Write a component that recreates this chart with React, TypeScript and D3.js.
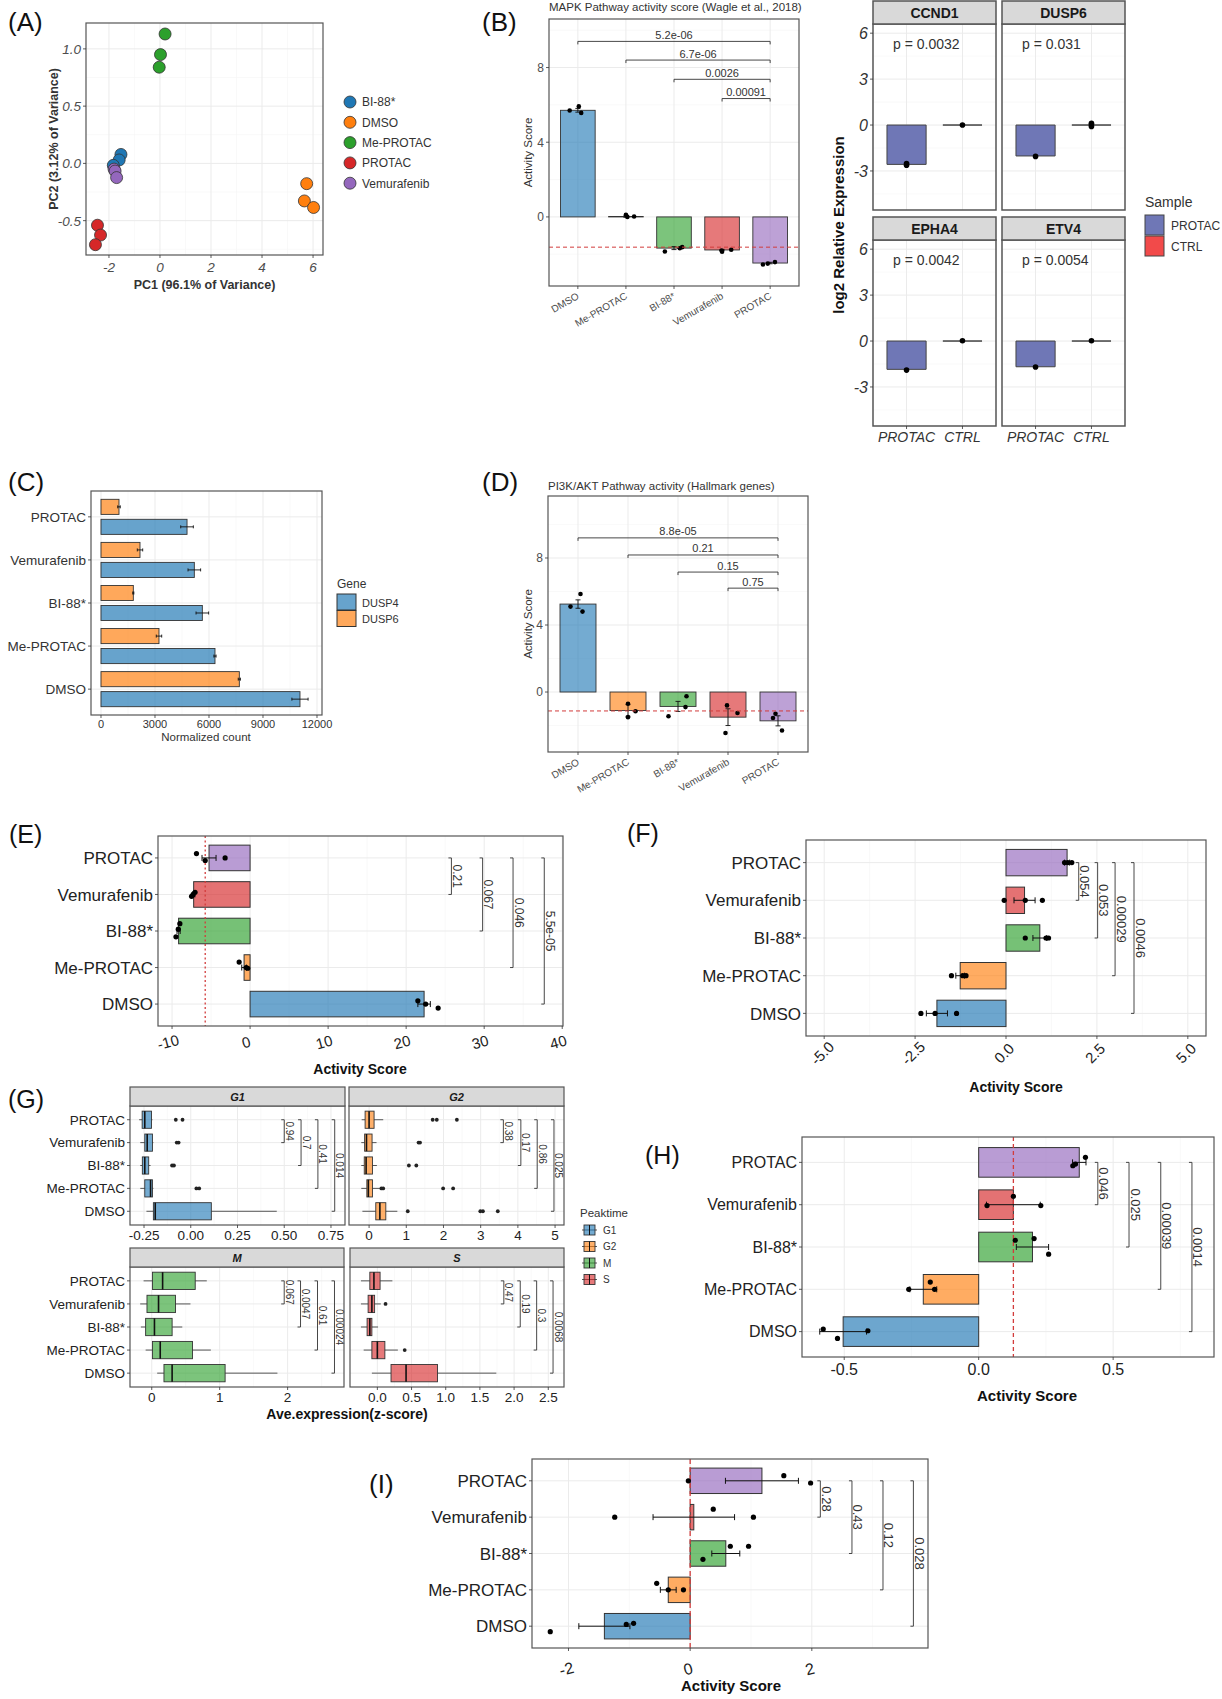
import React from "react";
import * as d3 from "d3";

const W = 1222;
const H = 1699;
const FONT = "'Liberation Sans', Arial, Helvetica, sans-serif";
const GRID = "#EBEBEB";
const GRID_MINOR = "#F5F5F5";
const BORDER = "#555555";
const INK = "#333333";
const REF = "#D23C3C";

// shared treatment groups (ggplot order) and their colours
const groups = ["DMSO", "Me-PROTAC", "BI-88*", "Vemurafenib", "PROTAC"];
const groupColors = ["#1F77B4", "#FF7F0E", "#2CA02C", "#D62728", "#9467BD"];

// (A) PCA
const pcaLegend = ["BI-88*", "DMSO", "Me-PROTAC", "PROTAC", "Vemurafenib"];
const pcaGroup = ["Me-PROTAC", "Me-PROTAC", "Me-PROTAC", "BI-88*", "BI-88*", "BI-88*", "Vemurafenib", "Vemurafenib", "Vemurafenib", "PROTAC", "PROTAC", "PROTAC", "DMSO", "DMSO", "DMSO"];
const pcaPC1 = [0.2, 0.02, -0.03, -1.53, -1.6, -1.83, -1.8, -1.76, -1.7, -2.45, -2.33, -2.53, 5.75, 5.66, 6.02];
const pcaPC2 = [1.13, 0.95, 0.84, 0.078, 0.03, -0.017, -0.05, -0.067, -0.124, -0.54, -0.626, -0.71, -0.177, -0.328, -0.385];

// (B) MAPK activity score
const mapkMean = [5.71, 0.02, -1.67, -1.77, -2.47];
const mapkErr = [0.1, 0.04, 0.08, 0.03, 0.04];
const mapkPts = [[5.7, 5.92, 5.57], [0.12, 0.0, 0.02], [-1.85, -1.68, -1.62], [-1.8, -1.86, -1.76], [-2.55, -2.5, -2.42]];
const mapkJit = [[-0.17, 0.02, 0.07], [0.0, 0.03, 0.17], [-0.19, 0.12, 0.17], [-0.01, 0.0, 0.19], [-0.15, -0.05, 0.1]];
const mapkRef = -1.62;
const mapkP = ["5.2e-06", "6.7e-06", "0.0026", "0.00091"];
const mapkPY = [9.4, 8.4, 7.37, 6.34];

// (B) qPCR facets
const genes = ["CCND1", "DUSP6", "EPHA4", "ETV4"];
const samples = ["PROTAC", "CTRL"];
const sampleColors = ["#6F77B6", "#F24A4A"];
const geneProtac = [-2.57, -2.02, -1.85, -1.68];
const geneCtrl = [0, 0, 0, 0];
const geneProtacPts = [[-2.52, -2.63], [-2.05], [-1.9], [-1.7]];
const geneCtrlPts = [[0], [0.12, -0.1, 0.02], [0.02], [0.02]];
const geneP = ["p = 0.0032", "p = 0.031", "p = 0.0042", "p = 0.0054"];

// (C) normalized counts
const cGenes = ["DUSP4", "DUSP6"];
const dusp4 = [11055, 6333, 5630, 5185, 4780];
const dusp4Err = [450, 60, 350, 350, 350];
const dusp6 = [7685, 3222, 1796, 2167, 1000];
const dusp6Err = [60, 150, 30, 150, 70];

// (D) PI3K/AKT activity
const pi3kMean = [5.25, -1.1, -0.86, -1.5, -1.72];
const pi3kErr = [0.25, 0.35, 0.3, 0.5, 0.3];
const pi3kPts = [[5.1, 5.85, 4.8], [-0.7, -1.5, -1.15], [-1.45, -0.9, -0.25], [-0.8, -1.25, -2.45], [-1.55, -1.3, -2.3]];
const pi3kJit = [[-0.15, 0.05, 0.09], [0, 0, 0.15], [-0.19, 0.15, 0.17], [-0.02, 0.19, -0.05], [-0.1, -0.05, 0.08]];
const pi3kRef = -1.13;
const pi3kP = ["8.8e-05", "0.21", "0.15", "0.75"];
const pi3kPY = [9.2, 8.18, 7.16, 6.2];

// (E)
const eMean = [22.3, -0.77, -9.16, -7.23, -5.26];
const eErr = [0.8, 0.3, 0.2, 0.15, 0.9];
const ePts = [[21.5, 22.5, 24.1], [-1.4, -0.5, -0.3], [-9.0, -9.2, -9.5], [-7.3, -7.05, -7.5], [-6.87, -5.75, -3.2]];
const eJit = [[-0.09, 0, 0.11], [-0.15, 0, 0.02], [-0.2, -0.05, 0.16], [0, -0.06, 0.05], [-0.12, 0.07, 0]];
const eRef = -5.75;
const eP = ["5.5e-05", "0.046", "0.067", "0.21"];
const ePX = [37.7, 33.7, 29.8, 25.8];

// (F)
const fMean = [-1.9, -1.26, 0.93, 0.51, 1.68];
const fErr = [0.29, 0.12, 0.19, 0.29, 0.07];
const fPts = [[-2.34, -1.95, -1.36], [-1.5, -1.19, -1.1], [0.53, 1.1, 1.17], [-0.05, 0.53, 1.0], [1.61, 1.81, 1.7]];
const fJit = [[0, 0, 0], [0, 0, 0], [0, 0, 0], [0, 0, 0], [0, 0, 0]];
const fP = ["0.0046", "0.00029", "0.053", "0.054"];
const fPX = [3.52, 3.0, 2.52, 2.0];

// (G) cell-cycle peaktime boxplots: [lower whisker, Q1, median, Q3, upper whisker]
const phases = ["G1", "G2", "M", "S"];
const phaseColors = ["#1F77B4", "#FF7F0E", "#2CA02C", "#D62728"];
const g1Stats = [[-0.237, -0.2, -0.19, 0.11, 0.46], [-0.27, -0.246, -0.215, -0.205, -0.2], [-0.27, -0.259, -0.246, -0.225, -0.215], [-0.27, -0.246, -0.233, -0.205, -0.2], [-0.276, -0.26, -0.246, -0.21, -0.205]];
const g1Out = [[], [0.03, 0.045], [-0.1, -0.09], [-0.075, -0.065], [-0.08, -0.044]];
const g2Stats = [[-0.18, 0.18, 0.29, 0.45, 0.76], [-0.21, -0.06, -0.02, 0.09, 0.29], [-0.21, -0.13, -0.08, 0.09, 0.21], [-0.21, -0.12, -0.07, 0.08, 0.2], [-0.2, -0.107, 0.0, 0.134, 0.38]];
const g2Out = [[1.04, 2.99, 3.06, 3.46], [0.33, 0.38, 1.99, 2.26], [1.07, 1.27], [1.33, 1.37], [1.71, 1.82, 2.36]];
const mStats = [[0.08, 0.18, 0.3, 1.08, 1.85], [-0.09, 0.01, 0.125, 0.6, 0.87], [-0.16, -0.09, 0.04, 0.3, 0.45], [-0.17, -0.07, 0.1, 0.35, 0.57], [-0.12, 0.01, 0.16, 0.64, 0.81]];
const mOut = [[], [], [], [], []];
const sStats = [[-0.08, 0.2, 0.42, 0.88, 1.74], [-0.2, -0.08, 0.0, 0.11, 0.3], [-0.24, -0.15, -0.11, -0.08, 0.01], [-0.24, -0.135, -0.08, -0.04, 0.05], [-0.24, -0.11, -0.05, 0.04, 0.22]];
const sOut = [[], [0.4], [], [0.12], []];
const gP = [["0.014", "0.41", "0.7", "0.94"], ["0.025", "0.86", "0.17", "0.38"], ["0.00024", "0.61", "0.0047", "0.067"], ["0.0068", "0.3", "0.19", "0.47"]];
const gPX = [[0.77, 0.68, 0.59, 0.5], [4.97, 4.52, 4.08, 3.61], [2.69, 2.44, 2.19, 1.95], [2.57, 2.33, 2.09, 1.85]];

// (H)
const hMean = [-0.504, -0.206, 0.2, 0.129, 0.374];
const hErr = [0.087, 0.05, 0.06, 0.1, 0.025];
const hPts = [[-0.578, -0.525, -0.412], [-0.26, -0.18, -0.164], [0.136, 0.206, 0.26], [0.129, 0.031, 0.231], [0.397, 0.35, 0.36]];
const hJit = [[-0.06, 0.16, -0.02], [0, -0.17, 0], [-0.16, -0.2, 0.17], [-0.2, 0.02, 0.02], [-0.12, 0.08, 0.04]];
const hRef = 0.129;
const hP = ["0.0014", "0.00039", "0.025", "0.046"];
const hPX = [0.793, 0.677, 0.559, 0.443];

// (I)
const iMean = [-1.41, -0.36, 0.586, 0.06, 1.18];
const iErr = [0.42, 0.13, 0.23, 0.67, 0.6];
const iPts = [[-2.3, -1.05, -0.93], [-0.55, -0.36, -0.11], [0.21, 0.66, 0.96], [-1.24, 0.38, 1.04], [-0.03, 1.54, 1.98]];
const iJit = [[0.15, -0.05, -0.08], [-0.18, 0, 0], [0.16, -0.2, -0.2], [0, -0.22, 0], [0, -0.14, 0.06]];
const iRef = 0;
const iP = ["0.028", "0.12", "0.43", "0.28"];
const iPX = [3.67, 3.17, 2.66, 2.14];

type Box = { x: number; y: number; w: number; h: number };

function vGrid(b: Box, xs: number[], minor = false) {
  return xs.map((v, i) => (
    <line key={`v${minor}${i}`} x1={v} x2={v} y1={b.y} y2={b.y + b.h} stroke={minor ? GRID_MINOR : GRID} strokeWidth={minor ? 0.6 : 1} />
  ));
}
function hGrid(b: Box, ys: number[], minor = false) {
  return ys.map((v, i) => (
    <line key={`h${minor}${i}`} x1={b.x} x2={b.x + b.w} y1={v} y2={v} stroke={minor ? GRID_MINOR : GRID} strokeWidth={minor ? 0.6 : 1} />
  ));
}
function border(b: Box) {
  return <rect x={b.x} y={b.y} width={b.w} height={b.h} fill="none" stroke={BORDER} strokeWidth={1.2} />;
}

type TickOpt = { size: number; dy: number; dx?: number; rotate?: number; anchor?: string; italic?: boolean; color?: string; central?: boolean };

function bottomTicks(b: Box, pos: number[], labels: string[], o: TickOpt) {
  const y0 = b.y + b.h;
  return pos.map((p, i) => (
    <g key={`bt${i}`}>
      <line x1={p} x2={p} y1={y0} y2={y0 + 3} stroke={INK} strokeWidth={0.8} />
      <text
        transform={`translate(${p + (o.dx ?? 0)},${y0 + o.dy}) rotate(${o.rotate ?? 0})`}
        textAnchor={o.anchor ?? "middle"}
        dominantBaseline={o.central ? "central" : "auto"}
        fontSize={o.size}
        fontStyle={o.italic ? "italic" : "normal"}
        fill={o.color ?? INK}
      >
        {labels[i]}
      </text>
    </g>
  ));
}
function leftTicks(b: Box, pos: number[], labels: string[], o: { size: number; italic?: boolean; color?: string }) {
  return pos.map((p, i) => (
    <g key={`lt${i}`}>
      <line x1={b.x - 3} x2={b.x} y1={p} y2={p} stroke={INK} strokeWidth={0.8} />
      <text x={b.x - 5} y={p + o.size * 0.36} textAnchor="end" fontSize={o.size} fontStyle={o.italic ? "italic" : "normal"} fill={o.color ?? INK}>
        {labels[i]}
      </text>
    </g>
  ));
}

// horizontal comparison bracket, tips down
function hBracket(x1: number, x2: number, yv: number, label: string, size: number, key: string) {
  return (
    <g key={key}>
      <path d={`M${x1},${yv + 3}V${yv}H${x2}V${yv + 3}`} fill="none" stroke={INK} strokeWidth={0.9} />
      <text x={(x1 + x2) / 2} y={yv - 2.5} textAnchor="middle" fontSize={size} fill={INK}>{label}</text>
    </g>
  );
}
// vertical comparison bracket, tips pointing left, label reads downwards
function vBracket(xv: number, y1: number, y2: number, label: string, size: number, key: string) {
  return (
    <g key={key}>
      <path d={`M${xv - 3},${y1}H${xv}V${y2}H${xv - 3}`} fill="none" stroke={INK} strokeWidth={0.9} />
      <text transform={`translate(${xv + 1.5},${(y1 + y2) / 2}) rotate(90)`} textAnchor="middle" fontSize={size} fill={INK}>{label}</text>
    </g>
  );
}

function PanelA() {
  const b = { x: 86, y: 23, w: 237, h: 232 };
  const x = d3.scaleLinear().domain([-2.9, 6.39]).range([b.x, b.x + b.w]);
  const y = d3.scaleLinear().domain([-0.8, 1.226]).range([b.y + b.h, b.y]);
  const xt = [-2, 0, 2, 4, 6];
  const yt = [-0.5, 0, 0.5, 1];
  // legend is alphabetical, so the default palette follows the legend order here
  const color = (g: string) => groupColors[pcaLegend.indexOf(g)];
  return (
    <g>
      {vGrid(b, [-1, 1, 3, 5].map(x), true)}
      {hGrid(b, [-0.75, -0.25, 0.25, 0.75].map(y), true)}
      {vGrid(b, xt.map(x))}
      {hGrid(b, yt.map(y))}
      {pcaPC1.map((v, i) => (
        <circle key={i} cx={x(v)} cy={y(pcaPC2[i])} r={6} fill={color(pcaGroup[i])} stroke="#333" strokeWidth={0.8} />
      ))}
      {border(b)}
      {bottomTicks(b, xt.map(x), xt.map(String), { size: 13.5, dy: 17, italic: true, color: "#4D4D4D" })}
      {leftTicks(b, yt.map(y), yt.map((v) => v.toFixed(1)), { size: 13.5, italic: true, color: "#4D4D4D" })}
      <text x={b.x + b.w / 2} y={289} textAnchor="middle" fontSize={12.5} fontWeight="bold" fill={INK}>PC1 (96.1% of Variance)</text>
      <text transform={`translate(58,${b.y + b.h / 2}) rotate(-90)`} textAnchor="middle" fontSize={12.5} fontWeight="bold" fill={INK}>PC2 (3.12% of Variance)</text>
      {pcaLegend.map((g, i) => (
        <g key={g}>
          <circle cx={350} cy={102 + i * 20.3} r={6} fill={color(g)} stroke="#333" strokeWidth={0.8} />
          <text x={362} y={102 + i * 20.3 + 4.3} fontSize={12} fill={INK}>{g}</text>
        </g>
      ))}
    </g>
  );
}

type VProps = {
  box: Box; yDomain: [number, number]; yTicks: number[]; yMinor: number[];
  means: number[]; errs: number[]; pts: number[][]; jit: number[][];
  refLine: number; pLabels: string[]; pY: number[];
  title: string; titleY: number; yTitleX: number; labelDy: number;
};

function VBars(p: VProps) {
  const b = p.box;
  const x = d3.scalePoint<string>().domain(groups).range([b.x, b.x + b.w]).padding(0.6);
  const y = d3.scaleLinear().domain(p.yDomain).range([b.y + b.h, b.y]);
  const step = x.step();
  const bw = step * 0.72;
  const xs = groups.map((g) => x(g) as number);
  const last = xs[xs.length - 1];
  return (
    <g>
      {hGrid(b, p.yMinor.map(y), true)}
      {hGrid(b, p.yTicks.map(y))}
      {vGrid(b, xs)}
      {groups.map((g, i) => {
        const y0 = y(0);
        const y1 = y(p.means[i]);
        return (
          <rect key={g} x={xs[i] - bw / 2} y={Math.min(y0, y1)} width={bw} height={Math.max(Math.abs(y1 - y0), 0.01)}
            fill={groupColors[i]} fillOpacity={0.62} stroke={INK} strokeWidth={0.9} />
        );
      })}
      {groups.map((g, i) => {
        const a = y(p.means[i] - p.errs[i]);
        const c = y(p.means[i] + p.errs[i]);
        return (
          <path key={`e${g}`} d={`M${xs[i] - 2.5},${a}H${xs[i] + 2.5}M${xs[i]},${a}V${c}M${xs[i] - 2.5},${c}H${xs[i] + 2.5}`} stroke="#111" strokeWidth={0.9} fill="none" />
        );
      })}
      {p.pts.map((arr, i) => arr.map((v, j) => (
        <circle key={`p${i}${j}`} cx={xs[i] + p.jit[i][j] * step} cy={y(v)} r={2.3} fill="#000" />
      )))}
      <line x1={b.x} x2={b.x + b.w} y1={y(p.refLine)} y2={y(p.refLine)} stroke={REF} strokeWidth={1} strokeDasharray="4,3" />
      {p.pLabels.map((l, i) => hBracket(xs[i], last, y(p.pY[i]), l, 11, `br${i}`))}
      {border(b)}
      {leftTicks(b, p.yTicks.map(y), p.yTicks.map(String), { size: 12, color: "#4D4D4D" })}
      {bottomTicks(b, xs, groups, { size: 10, dy: p.labelDy, dx: 2, rotate: -30, anchor: "end", color: "#4D4D4D" })}
      <text x={b.x} y={p.titleY} fontSize={11.5} fill={INK}>{p.title}</text>
      <text transform={`translate(${p.yTitleX},${b.y + b.h / 2}) rotate(-90)`} textAnchor="middle" fontSize={11.5} fill={INK}>Activity Score</text>
    </g>
  );
}

function PanelBFacets() {
  const cols = [873, 1002];
  const rows = [24, 240];
  const fw = 123;
  const fh = 186;
  const sh = 23;
  const x = d3.scalePoint<string>().domain(samples).range([0, fw]).padding(0.6);
  const y = d3.scaleLinear().domain([-5.55, 6.6]).range([fh, 0]);
  const step = x.step();
  const bw = step * 0.7;
  const yt = [-3, 0, 3, 6];
  return (
    <g>
      {genes.map((gname, gi) => {
        const col = gi % 2;
        const row = Math.floor(gi / 2);
        const b = { x: cols[col], y: rows[row], w: fw, h: fh };
        const yy = (v: number) => b.y + y(v);
        const vals = [geneProtac[gi], geneCtrl[gi]];
        const pts = [geneProtacPts[gi], geneCtrlPts[gi]];
        return (
          <g key={gname}>
            {hGrid(b, [-4.5, -1.5, 1.5, 4.5].map(yy), true)}
            {hGrid(b, yt.map(yy))}
            {vGrid(b, samples.map((s) => b.x + (x(s) as number)))}
            {samples.map((s, si) => {
              const cx = b.x + (x(s) as number);
              const y0 = yy(0);
              const y1 = yy(vals[si]);
              const top = Math.min(y0, y1);
              const hh = Math.abs(y1 - y0);
              return (
                <path key={s} d={`M${cx - bw / 2},${top}h${bw}v${hh}h${-bw}Z`} fill={sampleColors[si]} stroke="#444" strokeWidth={1} />
              );
            })}
            {pts.map((arr, si) => arr.map((v, j) => (
              <circle key={`${si}${j}`} cx={b.x + (x(samples[si]) as number)} cy={yy(v)} r={2.8} fill="#000" />
            )))}
            <text x={b.x + 20} y={yy(5.28) + 5} fontSize={14} fill={INK}>{geneP[gi]}</text>
            <rect x={b.x} y={b.y} width={b.w} height={b.h} fill="none" stroke={BORDER} strokeWidth={1.5} />
            <rect x={b.x} y={b.y - sh} width={b.w} height={sh} fill="#D9D9D9" stroke={BORDER} strokeWidth={1.5} />
            <text x={b.x + b.w / 2} y={b.y - sh / 2 + 5} textAnchor="middle" fontSize={14} fontWeight="bold" fill="#1A1A1A">{gname}</text>
            {col === 0 && leftTicks(b, yt.map(yy), yt.map(String), { size: 16, italic: true, color: "#333" })}
            {row === 1 && bottomTicks(b, samples.map((s) => b.x + (x(s) as number)), samples, { size: 14, dy: 16, italic: true, color: "#333" })}
          </g>
        );
      })}
      <text transform={`translate(844,225) rotate(-90)`} textAnchor="middle" fontSize={15} fontWeight="bold" fill="#111">log2 Relative Expression</text>
      <text x={1145} y={207} fontSize={14} fill={INK}>Sample</text>
      {samples.map((s, i) => (
        <g key={s}>
          <rect x={1145} y={215 + i * 21} width={19} height={20} fill={sampleColors[i]} stroke="#444" strokeWidth={1} />
          <text x={1171} y={229.5 + i * 21} fontSize={12} fill={INK}>{s}</text>
        </g>
      ))}
    </g>
  );
}

function PanelC() {
  const b = { x: 91, y: 491, w: 231, h: 224 };
  const x = d3.scaleLinear().domain([-555, 12278]).range([b.x, b.x + b.w]);
  const order = [...groups].reverse();
  const y = d3.scalePoint<string>().domain(order).range([b.y, b.y + b.h]).padding(0.6);
  const step = y.step();
  const bh = step * 0.35;
  const xt = [0, 3000, 6000, 9000, 12000];
  const ys = groups.map((g) => y(g) as number);
  const series = [
    { vals: dusp6, errs: dusp6Err, off: -0.232, color: groupColors[1] },
    { vals: dusp4, errs: dusp4Err, off: 0.232, color: groupColors[0] },
  ];
  return (
    <g>
      {vGrid(b, [1500, 4500, 7500, 10500].map(x), true)}
      {vGrid(b, xt.map(x))}
      {hGrid(b, ys)}
      {series.map((s, si) => groups.map((g, i) => {
        const cy = ys[i] + s.off * step;
        const x0 = x(0);
        const x1 = x(s.vals[i]);
        const ea = x(s.vals[i] - s.errs[i]);
        const eb = x(s.vals[i] + s.errs[i]);
        return (
          <g key={`${si}${g}`}>
            <rect x={x0} y={cy - bh / 2} width={x1 - x0} height={bh} fill={s.color} fillOpacity={0.68} stroke={INK} strokeWidth={0.9} />
            <path d={`M${ea},${cy - 1.5}V${cy + 1.5}M${ea},${cy}H${eb}M${eb},${cy - 1.5}V${cy + 1.5}`} stroke="#111" strokeWidth={0.9} fill="none" />
          </g>
        );
      }))}
      {border(b)}
      {leftTicks(b, ys, groups, { size: 13.5, color: "#333" })}
      {bottomTicks(b, xt.map(x), xt.map(String), { size: 11, dy: 13, color: "#333" })}
      <text x={206} y={741} textAnchor="middle" fontSize={11.5} fill={INK}>Normalized count</text>
      <text x={337} y={588} fontSize={12} fill={INK}>Gene</text>
      {cGenes.map((g, i) => (
        <g key={g}>
          <rect x={337} y={594 + i * 16.5} width={19} height={16} fill={groupColors[i]} fillOpacity={0.68} stroke={INK} strokeWidth={1} />
          <text x={362} y={606.5 + i * 16.5} fontSize={11} fill={INK}>{g}</text>
        </g>
      ))}
    </g>
  );
}

type HProps = {
  box: Box; xDomain: [number, number]; xTicks: number[]; xMinor: number[]; fmt: (v: number) => string;
  means: number[]; errs: number[]; pts: number[][]; jit: number[][];
  refLine?: number; refDash?: string; pLabels: string[]; pX: number[];
  tick: TickOpt; catSize: number; pSize: number; title: [number, number]; titleSize: number;
};

function HBars(p: HProps) {
  const b = p.box;
  const order = [...groups].reverse();
  const y = d3.scalePoint<string>().domain(order).range([b.y, b.y + b.h]).padding(0.6);
  const x = d3.scaleLinear().domain(p.xDomain).range([b.x, b.x + b.w]);
  const step = y.step();
  const bh = step * 0.7;
  const ys = groups.map((g) => y(g) as number);
  const top = y("PROTAC") as number;
  return (
    <g>
      {vGrid(b, p.xMinor.map(x), true)}
      {vGrid(b, p.xTicks.map(x))}
      {hGrid(b, ys)}
      {groups.map((g, i) => {
        const x0 = x(0);
        const x1 = x(p.means[i]);
        return (
          <rect key={g} x={Math.min(x0, x1)} y={ys[i] - bh / 2} width={Math.abs(x1 - x0)} height={bh}
            fill={groupColors[i]} fillOpacity={0.65} stroke={INK} strokeWidth={1} />
        );
      })}
      {p.refLine !== undefined && (
        <line x1={x(p.refLine)} x2={x(p.refLine)} y1={b.y} y2={b.y + b.h} stroke={REF} strokeWidth={1.3} strokeDasharray={p.refDash} />
      )}
      {groups.map((g, i) => {
        const a = x(p.means[i] - p.errs[i]);
        const c = x(p.means[i] + p.errs[i]);
        const cy = ys[i];
        return (
          <path key={`e${g}`} d={`M${a},${cy - 3}V${cy + 3}M${a},${cy}H${c}M${c},${cy - 3}V${cy + 3}`} stroke="#111" strokeWidth={1} fill="none" />
        );
      })}
      {p.pts.map((arr, i) => arr.map((v, j) => (
        <circle key={`p${i}${j}`} cx={x(v)} cy={ys[i] + p.jit[i][j] * step} r={2.6} fill="#000" />
      )))}
      {p.pLabels.map((l, i) => vBracket(x(p.pX[i]), top, ys[i], l, p.pSize, `br${i}`))}
      {border(b)}
      {leftTicks(b, ys, groups, { size: p.catSize, color: "#222" })}
      {bottomTicks(b, p.xTicks.map(x), p.xTicks.map(p.fmt), p.tick)}
      <text x={p.title[0]} y={p.title[1]} textAnchor="middle" fontSize={p.titleSize} fontWeight="bold" fill="#111">Activity Score</text>
    </g>
  );
}

function PanelG() {
  const facets = [
    { x: 130, w: 215, strip: 1087, top: 1106, bottom: 1225, domain: [-0.325, 0.825], ticks: [-0.25, 0, 0.25, 0.5, 0.75], minor: [-0.125, 0.125, 0.375, 0.625], fmt: (v: number) => v.toFixed(2), left: true },
    { x: 349, w: 215, strip: 1087, top: 1106, bottom: 1225, domain: [-0.54, 5.24], ticks: [0, 1, 2, 3, 4, 5], minor: [0.5, 1.5, 2.5, 3.5, 4.5], fmt: (v: number) => String(v), left: false },
    { x: 130, w: 214, strip: 1248, top: 1267, bottom: 1387, domain: [-0.32, 2.83], ticks: [0, 1, 2], minor: [0.5, 1.5, 2.5], fmt: (v: number) => String(v), left: true },
    { x: 350, w: 214, strip: 1248, top: 1267, bottom: 1387, domain: [-0.4, 2.73], ticks: [0, 0.5, 1, 1.5, 2, 2.5], minor: [0.25, 0.75, 1.25, 1.75, 2.25], fmt: (v: number) => v.toFixed(1), left: false },
  ];
  const stats = [g1Stats, g2Stats, mStats, sStats];
  const outs = [g1Out, g2Out, mOut, sOut];
  return (
    <g>
      {facets.map((f, fi) => {
        const b = { x: f.x, y: f.top, w: f.w, h: f.bottom - f.top };
        const x = d3.scaleLinear().domain(f.domain).range([b.x, b.x + b.w]);
        const y = d3.scalePoint<string>().domain([...groups].reverse()).range([b.y, b.y + b.h]).padding(0.6);
        const step = y.step();
        const bh = step * 0.75;
        const ys = groups.map((g) => y(g) as number);
        const top = y("PROTAC") as number;
        return (
          <g key={fi}>
            {vGrid(b, f.minor.map(x), true)}
            {vGrid(b, f.ticks.map(x))}
            {hGrid(b, ys)}
            {groups.map((g, i) => {
              const [lw, q1, md, q3, uw] = stats[fi][i];
              const cy = ys[i];
              return (
                <g key={g}>
                  <path d={`M${x(lw)},${cy}H${x(q1)}M${x(q3)},${cy}H${x(uw)}`} stroke="#444" strokeWidth={0.9} />
                  <rect x={x(q1)} y={cy - bh / 2} width={x(q3) - x(q1)} height={bh} fill={phaseColors[fi]} fillOpacity={0.62} stroke="#333" strokeWidth={0.9} />
                  <line x1={x(md)} x2={x(md)} y1={cy - bh / 2} y2={cy + bh / 2} stroke="#111" strokeWidth={1.6} />
                  {outs[fi][i].map((v, j) => (
                    <circle key={j} cx={x(v)} cy={cy} r={1.9} fill="#222" />
                  ))}
                </g>
              );
            })}
            {gP[fi].map((l, i) => vBracket(x(gPX[fi][i]), top, ys[i], l, 10, `gb${i}`))}
            {border(b)}
            <rect x={b.x} y={f.strip} width={b.w} height={f.top - f.strip} fill="#D9D9D9" stroke={BORDER} strokeWidth={1.2} />
            <text x={b.x + b.w / 2} y={f.strip + (f.top - f.strip) / 2 + 4} textAnchor="middle" fontSize={11} fontWeight="bold" fontStyle="italic" fill="#1A1A1A">{phases[fi]}</text>
            {f.left && leftTicks(b, ys, groups, { size: 13.5, color: "#222" })}
            {bottomTicks(b, f.ticks.map(x), f.ticks.map(f.fmt), { size: 13.5, dy: 15, color: "#222" })}
          </g>
        );
      })}
      <text x={347} y={1419} textAnchor="middle" fontSize={14} fontWeight="bold" fill="#111">Ave.expression(z-score)</text>
      <text x={580} y={1217} fontSize={11.5} fill={INK}>Peaktime</text>
      {phases.map((ph, i) => {
        const cy = 1230 + i * 16.5;
        return (
          <g key={ph}>
            <line x1={582} x2={597} y1={cy} y2={cy} stroke="#444" strokeWidth={0.9} />
            <rect x={584} y={cy - 5} width={11} height={10} fill={phaseColors[i]} fillOpacity={0.62} stroke="#333" strokeWidth={0.9} />
            <line x1={589.5} x2={589.5} y1={cy - 5} y2={cy + 5} stroke="#111" strokeWidth={1} />
            <text x={603} y={cy + 3.5} fontSize={10} fill={INK}>{ph}</text>
          </g>
        );
      })}
    </g>
  );
}

export default function App() {
  const tags: [string, number, number, number][] = [
    ["(A)", 8, 31, 26], ["(B)", 482, 31, 26], ["(C)", 8, 491, 26], ["(D)", 482, 491, 26],
    ["(E)", 9, 843, 25], ["(F)", 627, 842, 25], ["(G)", 8, 1108, 25], ["(H)", 645, 1164, 25], ["(I)", 369, 1493, 26],
  ];
  return (
    <svg width={W} height={H} viewBox={`0 0 ${W} ${H}`} style={{ position: "absolute", left: 0, top: 0, background: "#fff" }} fontFamily={FONT}>
      <rect width={W} height={H} fill="#fff" />
      <PanelA />
      <VBars
        box={{ x: 549, y: 19, w: 250, h: 267 }} yDomain={[-3.7, 10.6]} yTicks={[0, 4, 8]} yMinor={[-2, 2, 6, 10]}
        means={mapkMean} errs={mapkErr} pts={mapkPts} jit={mapkJit} refLine={mapkRef} pLabels={mapkP} pY={mapkPY}
        title="MAPK Pathway activity score (Wagle et al., 2018)" titleY={11} yTitleX={532} labelDy={12}
      />
      <PanelBFacets />
      <PanelC />
      <VBars
        box={{ x: 548, y: 496, w: 260, h: 256 }} yDomain={[-3.58, 11.7]} yTicks={[0, 4, 8]} yMinor={[-2, 2, 6, 10]}
        means={pi3kMean} errs={pi3kErr} pts={pi3kPts} jit={pi3kJit} refLine={pi3kRef} pLabels={pi3kP} pY={pi3kPY}
        title="PI3K/AKT Pathway activity (Hallmark genes)" titleY={490} yTitleX={532} labelDy={12}
      />
      <HBars
        box={{ x: 158, y: 836, w: 405, h: 190 }} xDomain={[-11.8, 40.1]} xTicks={[-10, 0, 10, 20, 30, 40]} xMinor={[-5, 5, 15, 25, 35]}
        fmt={(v) => String(v)} means={eMean} errs={eErr} pts={ePts} jit={eJit} refLine={eRef} refDash="2,2.5"
        pLabels={eP} pX={ePX} tick={{ size: 15, dy: 16, dx: -4, rotate: -15, central: true, color: "#222" }}
        catSize={17} pSize={12} title={[360, 1074]} titleSize={14}
      />
      <HBars
        box={{ x: 806, y: 840, w: 400, h: 196 }} xDomain={[-5.5, 5.5]} xTicks={[-5, -2.5, 0, 2.5, 5]} xMinor={[-3.75, -1.25, 1.25, 3.75]}
        fmt={(v) => v.toFixed(1)} means={fMean} errs={fErr} pts={fPts} jit={fJit}
        pLabels={fP} pX={fPX} tick={{ size: 15, dy: 17, dx: -2, rotate: -45, central: true, color: "#222" }}
        catSize={17} pSize={13} title={[1016, 1092]} titleSize={14}
      />
      <PanelG />
      <HBars
        box={{ x: 802, y: 1137, w: 412, h: 220 }} xDomain={[-0.657, 0.875]} xTicks={[-0.5, 0, 0.5]} xMinor={[-0.25, 0.25, 0.75]}
        fmt={(v) => v.toFixed(1)} means={hMean} errs={hErr} pts={hPts} jit={hJit} refLine={hRef} refDash="4,3"
        pLabels={hP} pX={hPX} tick={{ size: 16, dy: 18, color: "#222" }}
        catSize={16} pSize={13} title={[1027, 1401]} titleSize={15}
      />
      <HBars
        box={{ x: 532, y: 1459, w: 396, h: 189 }} xDomain={[-2.6, 3.91]} xTicks={[-2, 0, 2]} xMinor={[-1, 1, 3]}
        fmt={(v) => String(v)} means={iMean} errs={iErr} pts={iPts} jit={iJit} refLine={iRef} refDash="5,3"
        pLabels={iP} pX={iPX} tick={{ size: 16, dy: 21, dx: -2, rotate: -15, central: true, color: "#222" }}
        catSize={17} pSize={13} title={[731, 1691]} titleSize={15}
      />
      {tags.map(([t, x, y, s]) => (
        <text key={t} x={x} y={y} fontSize={s} fill="#111">{t}</text>
      ))}
    </svg>
  );
}
